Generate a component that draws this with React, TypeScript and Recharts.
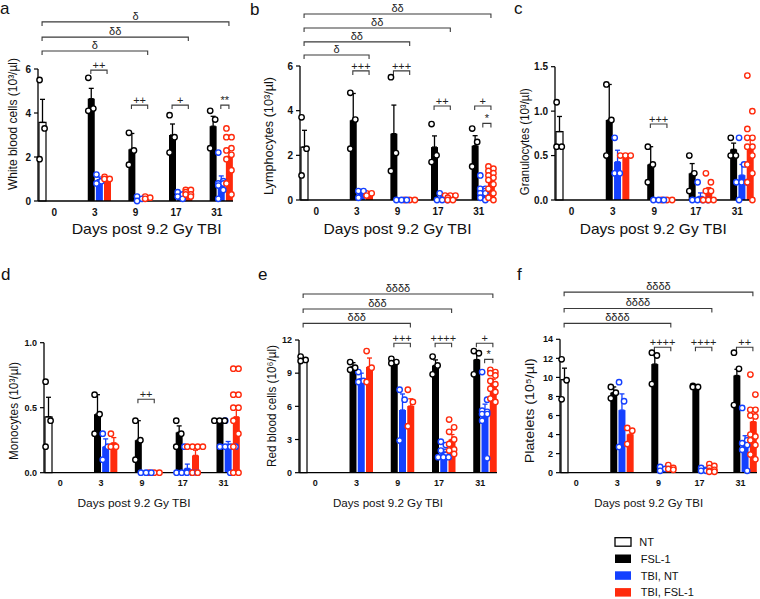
import React from 'react';
import { ComposedChart, Bar, Cell, ErrorBar, Scatter, XAxis, YAxis, ReferenceLine } from 'recharts';

const FONT = '"Liberation Sans", Arial, sans-serif';
const BLUE = '#1440ff';
const RED = '#ff2a0c';

const days = ['0', '3', '9', '17', '31'];
const groups = ['NT', 'FSL-1', 'TBI, NT', 'TBI, FSL-1'];
const fills = ['#ffffff', '#000000', BLUE, RED];
const edges = ['#000000', '#000000', BLUE, RED];

type N = number | null;
// [from day, from group, to day, to group, height, label]
type Bracket = [number, number, number, number, number, string];

// rows = days, columns = groups (NT, FSL-1, TBI NT, TBI FSL-1)

// a: white blood cells
const wbcMean: N[][] = [
  [3.57, null, null, null],
  [null, 4.65, 0.97, 1.03],
  [null, 2.35, 0.1, 0.15],
  [null, 3.0, 0.25, 0.37],
  [null, 3.4, 0.86, 2.03],
];
const wbcSem = [
  [1.05, 0, 0, 0],
  [0, 0.47, 0.12, 0.05],
  [0, 0.72, 0.06, 0.03],
  [0, 0.5, 0.07, 0.05],
  [0, 0.45, 0.28, 0.32],
];
const wbcPts = [
  [[5.5, 3.3, 1.9], [], [], []],
  [[], [5.6, 4.2, 4.1], [1.2, 0.9, 0.8], [1.1, 1.0, 1.0]],
  [[], [3.1, 2.3, 1.65], [0.2, 0.1, 0.0], [0.2, 0.15, 0.1]],
  [[], [3.9, 2.9, 2.2], [0.4, 0.3, 0.2, 0.1], [0.5, 0.5, 0.4, 0.3, 0.3, 0.2]],
  [[], [4.1, 3.7, 2.4], [2.2, 0.9, 0.8, 0.8, 0.7, 0.5, 0.1], [3.3, 2.9, 2.9, 2.4, 2.3, 2.1, 1.9, 1.4, 0.8, 0.3]],
];
const wbcBrackets: Bracket[] = [
  [0, 0, 4, 3, 8.14, 'δ'], [0, 0, 3, 3, 7.45, 'δδ'], [0, 0, 2, 3, 6.82, 'δ'],
  [1, 1, 1, 3, 5.95, '++'], [2, 1, 2, 3, 4.36, '++'], [3, 1, 3, 3, 4.36, '+'], [4, 2, 4, 3, 4.36, '**'],
];

// b: lymphocytes
const lymMean: N[][] = [
  [2.37, null, null, null],
  [null, 3.57, 0.3, 0.27],
  [null, 2.97, 0, 0],
  [null, 2.37, 0.08, 0.1],
  [null, 2.43, 0.4, 0.83],
];
const lymSem = [
  [0.75, 0, 0, 0],
  [0, 1.2, 0.1, 0.04],
  [0, 1.28, 0, 0],
  [0, 0.5, 0.07, 0.04],
  [0, 0.45, 0.13, 0.17],
];
const lymPts = [
  [[3.7, 2.3, 1.1], [], [], []],
  [[], [4.8, 3.6, 2.3], [0.4, 0.4, 0.1], [0.3, 0.3, 0.2]],
  [[], [5.5, 2.1, 1.3], [0, 0, 0], [0, 0, 0]],
  [[], [3.4, 2.0, 1.7], [0.3, 0, 0, 0], [0.2, 0.2, 0.2, 0.1, 0, 0]],
  [[], [3.2, 2.6, 1.5], [1.1, 0.5, 0.5, 0.4, 0.3, 0.3, 0.1, 0], [1.5, 1.4, 1.3, 1.2, 1.1, 1.0, 0.9, 0.7, 0.5, 0.3, 0.1, 0]],
];
const lymBrackets: Bracket[] = [
  [0, 0, 4, 3, 8.33, 'δδ'], [0, 0, 3, 3, 7.7, 'δδ'], [0, 0, 2, 3, 7.08, 'δδ'], [0, 0, 1, 3, 6.49, 'δ'],
  [1, 1, 1, 3, 5.78, '+++'], [2, 1, 2, 3, 5.78, '+++'], [3, 1, 3, 3, 4.21, '++'], [4, 1, 4, 3, 4.21, '+'], [4, 2, 4, 3, 3.43, '*'],
];

// c: granulocytes
const graMean: N[][] = [
  [0.77, null, null, null],
  [null, 0.9, 0.43, 0.5],
  [null, 0.4, 0, 0],
  [null, 0.3, 0.04, 0.1],
  [null, 0.57, 0.28, 0.6],
];
const graSem = [
  [0.17, 0, 0, 0],
  [0, 0.4, 0.13, 0],
  [0, 0.2, 0, 0],
  [0, 0.11, 0.04, 0.04],
  [0, 0.07, 0.12, 0.1],
];
const graPts = [
  [[1.1, 0.6, 0.6], [], [], []],
  [[], [1.3, 0.9, 0.5], [0.7, 0.3, 0.3], [0.5, 0.5, 0.5]],
  [[], [0.6, 0.4, 0.2], [0, 0, 0], [0, 0, 0]],
  [[], [0.5, 0.3, 0.1], [0.2, 0, 0, 0, 0], [0.3, 0.2, 0.1, 0.1, 0, 0, 0]],
  [[], [0.7, 0.5, 0.5], [0.7, 0.4, 0.2, 0.2, 0.2, 0], [1.4, 1.0, 0.8, 0.7, 0.7, 0.6, 0.6, 0.5, 0.4, 0.3, 0.2, 0]],
];
const graBrackets: Bracket[] = [[2, 1, 2, 3, 0.855, '+++']];

// d: monocytes
const monMean: N[][] = [
  [0.43, null, null, null],
  [null, 0.45, 0.2, 0.23],
  [null, 0.25, 0, 0],
  [null, 0.31, 0.033, 0.133],
  [null, 0.4, 0.2, 0.43],
];
const monSem = [
  [0.15, 0, 0, 0],
  [0, 0.15, 0.06, 0.04],
  [0, 0.15, 0, 0],
  [0, 0.05, 0.033, 0.04],
  [0, 0, 0.04, 0.08],
];
const monPts = [
  [[0.7, 0.4, 0.2], [], [], []],
  [[], [0.6, 0.45, 0.3], [0.3, 0.2, 0.1], [0.3, 0.2, 0.2]],
  [[], [0.4, 0.25, 0.1], [0, 0, 0], [0, 0, 0]],
  [[], [0.4, 0.3, 0.2], [0.2, 0, 0, 0, 0, 0], [0.2, 0.2, 0.2, 0.2, 0, 0]],
  [[], [0.4, 0.4, 0.4], [0.4, 0.2, 0.2, 0.2, 0.2, 0], [0.8, 0.8, 0.6, 0.6, 0.5, 0.5, 0.4, 0.3, 0.2, 0, 0]],
];
const monBrackets: Bracket[] = [[2, 1, 2, 3, 0.565, '++']];

// e: red blood cells
const rbcMean: N[][] = [
  [10.27, null, null, null],
  [null, 9.6, 8.5, 9.57],
  [null, 10.0, 5.67, 6.03],
  [null, 9.7, 1.87, 3.0],
  [null, 10.23, 5.5, 8.1],
];
const rbcSem = [
  [0.12, 0, 0, 0],
  [0, 0.35, 0.5, 0.8],
  [0, 0.15, 1.45, 0.65],
  [0, 0.5, 0.25, 0.45],
  [0, 0.65, 0.7, 0.35],
];
const rbcPts = [
  [[10.5, 10.2, 10.1], [], [], []],
  [[], [10.0, 9.5, 9.3], [9.1, 8.3, 8.2], [11.0, 9.5, 8.2]],
  [[], [10.3, 10.0, 9.9], [7.5, 6.6, 2.9], [7.5, 6.4, 4.2]],
  [[], [10.5, 9.7, 8.9], [2.8, 2.5, 2.0, 1.6, 1.4, 1.4, 1.4], [4.8, 4.1, 3.7, 3.0, 2.6, 2.1, 2.0, 1.7]],
  [[], [11.0, 10.8, 8.9], [9.1, 6.6, 5.6, 5.5, 5.3, 5.3, 4.7, 1.3], [9.3, 9.1, 9.0, 8.8, 8.3, 8.0, 7.6, 7.3, 6.7, 6.4]],
];
const rbcBrackets: Bracket[] = [
  [0, 0, 4, 3, 16.16, 'δδδδ'], [0, 0, 3, 3, 14.8, 'δδδ'], [0, 0, 2, 3, 13.5, 'δδδ'],
  [2, 1, 2, 3, 11.7, '+++'], [3, 1, 3, 3, 11.7, '++++'], [4, 1, 4, 3, 11.7, '+'], [4, 2, 4, 3, 10.25, '*'],
];

// f: platelets
const pltMean: N[][] = [
  [9.77, null, null, null],
  [null, 8.4, 6.57, 4.03],
  [null, 11.4, 0.4, 0.5],
  [null, 9.03, 0.3, 0.4],
  [null, 10.2, 3.13, 5.36],
];
const pltSem = [
  [1.2, 0, 0, 0],
  [0, 0.6, 1.7, 0.5],
  [0, 1.1, 0.12, 0.1],
  [0, 0.1, 0.07, 0.1],
  [0, 0.65, 0.75, 0.7],
];
const pltPts = [
  [[11.9, 9.7, 7.7], [], [], []],
  [[], [9.0, 8.4, 7.8], [9.5, 7.5, 2.7], [4.7, 4.4, 3.0]],
  [[], [12.6, 12.3, 9.3], [0.6, 0.4, 0.2], [0.8, 0.5, 0.4, 0.3]],
  [[], [9.1, 9.0, 9.0], [0.5, 0.3, 0.2, 0.2], [0.9, 0.7, 0.5, 0.3, 0.2, 0.1, 0.1]],
  [[], [12.6, 10.9, 7.1], [6.8, 3.4, 3.1, 2.9, 2.4, 0.2], [10.3, 8.2, 6.6, 6.6, 6.0, 5.9, 4.0, 3.8, 3.4, 2.9, 1.9, 1.4]],
];
const pltBrackets: Bracket[] = [
  [0, 0, 4, 3, 18.95, 'δδδδ'], [0, 0, 3, 3, 17.24, 'δδδδ'], [0, 0, 2, 3, 15.67, 'δδδδ'],
  [2, 1, 2, 3, 13.16, '++++'], [3, 1, 3, 3, 13.16, '++++'], [4, 1, 4, 3, 13.16, '++'],
];

const xTitle = 'Days post 9.2 Gy TBI';
const MAX_PTS = 12;

// layout: plot box, title placement, font sizes
const panels = [
  { id: 'a', title: 'White blood cells (10³/µl)', mean: wbcMean, sem: wbcSem, pts: wbcPts, brackets: wbcBrackets,
    ticks: [0, 2, 4, 6], dec: 0, x0: 38, x1: 233, yTop: 69, yBot: 201, top: 0, padR: 10, fs: 10,
    letter: [0, 13.5], xt: [146.7, 234.3, 14.8, 150], yt: [16.5, 124, 12, 132] },
  { id: 'b', title: 'Lymphocytes (10³/µl)', mean: lymMean, sem: lymSem, pts: lymPts, brackets: lymBrackets,
    ticks: [0, 2, 4, 6], dec: 0, x0: 300, x1: 495, yTop: 66, yBot: 200, top: 0, padR: 10, fs: 10,
    letter: [250, 14.5], xt: [397.5, 234.3, 14.8, 148], yt: [273, 136, 12.5, 118] },
  { id: 'c', title: 'Granulocytes (10³/µl)', mean: graMean, sem: graSem, pts: graPts, brackets: graBrackets,
    ticks: [0, 0.5, 1, 1.5], dec: 1, x0: 555, x1: 754, yTop: 66.7, yBot: 200, top: 0, padR: 4, fs: 10,
    letter: [514, 13.5], xt: [653.3, 234.3, 14.8, 147], yt: [529, 141.7, 12, 107] },
  { id: 'd', title: 'Monocytes (10³/µl)', mean: monMean, sem: monSem, pts: monPts, brackets: monBrackets,
    ticks: [0, 0.5, 1], dec: 1, x0: 44, x1: 240, yTop: 342.7, yBot: 472.7, top: 280, padR: 10, fs: 9,
    letter: [1, 280], xt: [134, 506.5, 11.8, 113], yt: [18, 411, 12, 98] },
  { id: 'e', title: 'Red blood cells (10⁶/µl)', mean: rbcMean, sem: rbcSem, pts: rbcPts, brackets: rbcBrackets,
    ticks: [0, 3, 6, 9, 12], dec: 0, x0: 299, x1: 497, yTop: 340, yBot: 472.7, top: 280, padR: 10, fs: 9,
    letter: [258, 280], xt: [388, 506.5, 11.8, 110], yt: [276, 406, 12, 122] },
  { id: 'f', title: 'Platelets (10⁵/µl)', mean: pltMean, sem: pltSem, pts: pltPts, brackets: pltBrackets,
    ticks: [0, 2, 4, 6, 8, 10, 12, 14], dec: 0, x0: 560, x1: 757, yTop: 339.3, yBot: 472.7, top: 280, padR: 3, fs: 9,
    letter: [517, 280], xt: [648.7, 506.5, 11.8, 109], yt: [534, 410.7, 12.5, 105] },
];

const slotId = (d: number, g: number) => `${d}-${g}`;

function buildRows(mean: N[][], sem: number[][], pts: number[][][]) {
  const rows: any[] = [];
  days.forEach((_, d) => {
    groups.forEach((_, g) => {
      const row: any = { slot: slotId(d, g), g, mean: mean[d][g] };
      if (mean[d][g] != null && sem[d][g] > 0) row['e' + g] = [0, sem[d][g]];
      const vals = [...pts[d][g]].sort((a, b) => b - a);
      // equal values sit side by side, the rest zigzag inside the bar
      let i = 0;
      let zig = 0;
      while (i < vals.length) {
        let j = i;
        while (j + 1 < vals.length && vals[j + 1] === vals[i]) j++;
        const k = j - i + 1;
        for (let m = i; m <= j; m++) {
          row['p' + m] = vals[m];
          row['j' + m] = k > 1 ? (m - i - (k - 1) / 2) * 5.2 : (zig % 2 === 0 ? -2.5 : 2.5);
        }
        if (k === 1) zig++;
        i = j + 1;
      }
      rows.push(row);
    });
    if (d < days.length - 1) rows.push({ slot: `${d}-s`, g: -1, mean: null });
  });
  return rows;
}

const dotShape = (k: number) => (props: any) => {
  const { cx, cy, payload } = props;
  if (cx == null || cy == null || Number.isNaN(cx) || Number.isNaN(cy) || payload == null || payload['p' + k] == null) return <g />;
  return <circle cx={cx + payload['j' + k]} cy={cy} r={2.7} fill="#fff" stroke={edges[payload.g]} strokeWidth={1.4} />;
};

const bracketShape = (props: any) => {
  const { x1, y1, x2, y2 } = props;
  return <path d={`M${x1},${y1 + 4}V${y1}H${x2}V${y2 + 4}`} fill="none" stroke="#3a3a3a" strokeWidth={1.1} />;
};

function Panel({ p }: { p: (typeof panels)[number] }) {
  const max = p.ticks[p.ticks.length - 1];
  const rows = buildRows(p.mean, p.sem, p.pts);
  const width = p.x1 - p.x0 + 45 + p.padR;
  const height = p.yBot - p.top + 40;
  const tickDy = p.fs === 10 ? 14.5 : 13.5;
  const dayTick = (t: any) => {
    const [d, g] = String(t.payload.value).split('-');
    if (g !== '1') return <g />;
    return (
      <text x={t.x + 4} y={t.y + tickDy} textAnchor="middle" fontSize={p.fs} fontWeight="bold" fill="#111" fontFamily={FONT}>
        {days[Number(d)]}
      </text>
    );
  };
  return (
    <div style={{ position: 'absolute', left: p.x0 - 45, top: p.top }}>
      <ComposedChart width={width} height={height} data={rows}
        margin={{ top: p.yTop - p.top, right: p.padR, bottom: 0, left: 5 }}>
        <XAxis dataKey="slot" interval={0} height={40} tickLine={false} tickSize={0} tickMargin={0}
          axisLine={{ stroke: '#000', strokeWidth: 1.3 }} tick={dayTick} />
        <YAxis width={40} type="number" domain={[0, max]} ticks={p.ticks} interval={0}
          tickFormatter={(v: number) => v.toFixed(p.dec)} tickSize={4} tickMargin={3}
          axisLine={{ stroke: '#000', strokeWidth: 1.3 }} tickLine={{ stroke: '#000', strokeWidth: 1.2 }}
          tick={{ fontSize: p.fs, fontWeight: 'bold', fill: '#111', fontFamily: FONT }} />
        <Bar dataKey="mean" barSize={7} isAnimationActive={false}>
          {rows.map((r, i) => (
            <Cell key={i} fill={r.g >= 0 ? fills[r.g] : 'none'} stroke={r.g === 0 ? '#000' : 'none'} strokeWidth={1.2} />
          ))}
          {groups.map((_, g) => (
            <ErrorBar key={g} dataKey={'e' + g} direction="y" width={2.5} stroke={edges[g]} strokeWidth={1.3} />
          ))}
        </Bar>
        {Array.from({ length: MAX_PTS }, (_, k) => (
          <Scatter key={k} dataKey={'p' + k} shape={dotShape(k)} isAnimationActive={false} legendType="none" />
        ))}
        {p.brackets.map((b, i) => (
          <ReferenceLine key={i} ifOverflow="visible" stroke="#3a3a3a"
            segment={[{ x: slotId(b[0], b[1]), y: b[4] }, { x: slotId(b[2], b[3]), y: b[4] }]}
            shape={bracketShape}
            label={{ value: b[5], position: 'top', offset: b[5].startsWith('δ') ? 2 : 1, fill: '#222', stroke: 'none', fontSize: 11, fontFamily: FONT }} />
        ))}
      </ComposedChart>
    </div>
  );
}

export default function App() {
  return (
    <div style={{ position: 'absolute', left: 0, top: 0, width: 760, height: 599, overflow: 'hidden', background: '#fff' }}>
      {panels.map((p) => <Panel key={p.id} p={p} />)}
      <svg width={760} height={599} style={{ position: 'absolute', left: 0, top: 0, pointerEvents: 'none' }} fontFamily={FONT}>
        {panels.map((p) => (
          <g key={p.id} fill="#111">
            <text x={p.letter[0]} y={p.letter[1]} fontSize={17}>{p.id}</text>
            <text x={p.xt[0]} y={p.xt[1]} fontSize={p.xt[2]} textAnchor="middle" textLength={p.xt[3]} lengthAdjust="spacingAndGlyphs">{xTitle}</text>
            <text x={p.yt[0]} y={p.yt[1]} fontSize={p.yt[2]} textAnchor="middle" textLength={p.yt[3]} lengthAdjust="spacingAndGlyphs"
              transform={`rotate(-90 ${p.yt[0]} ${p.yt[1]})`}>{p.title}</text>
          </g>
        ))}
        {groups.map((name, g) => (
          <g key={name}>
            <rect x={615} y={537.7 + g * 16.8} width={16} height={8.5} fill={fills[g]} stroke={g === 0 ? '#000' : 'none'} strokeWidth={1.3} />
            <text x={g === 0 ? 639.3 : 640.7} y={545.9 + g * 16.8} fontSize={11} fill="#111">{name}</text>
          </g>
        ))}
      </svg>
    </div>
  );
}
